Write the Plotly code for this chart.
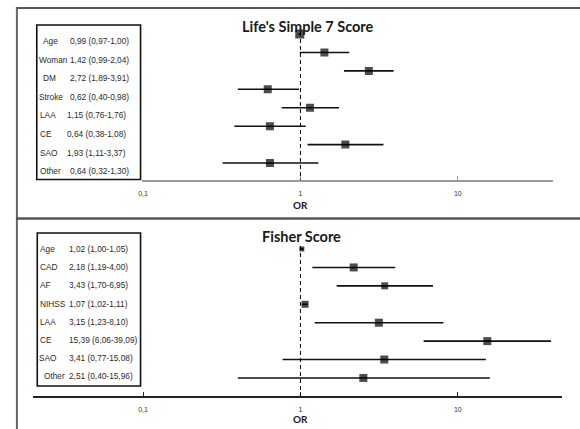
import plotly.graph_objects as go
import numpy as np

# ---------------- data ----------------
top_title = "Life's Simple 7 Score"
top_labels = ["Age", "Woman", "DM", "Stroke", "LAA", "CE", "SAO", "Other"]
top_or = [0.99, 1.42, 2.72, 0.62, 1.15, 0.64, 1.93, 0.64]
top_lo = [0.97, 0.99, 1.89, 0.40, 0.76, 0.38, 1.11, 0.32]
top_hi = [1.00, 2.04, 3.91, 0.98, 1.76, 1.08, 3.37, 1.30]

bot_title = "Fisher Score"
bot_labels = ["Age", "CAD", "AF", "NIHSS", "LAA", "CE", "SAO", "Other"]
bot_or = [1.02, 2.18, 3.43, 1.07, 3.15, 15.39, 3.41, 2.51]
bot_lo = [1.00, 1.19, 1.70, 1.02, 1.23, 6.06, 0.77, 0.40]
bot_hi = [1.05, 4.00, 6.95, 1.11, 8.10, 39.09, 15.08, 15.96]

tick_vals = [0.1, 1, 10]
tick_text = ["0,1", "1", "10"]
axis_title = "OR"

W, H = 580, 429
def px(x): return x / W
def py(y): return 1 - y / H

def fmt(v):
    return f"{v:.2f}".replace(".", ",")

def ci_text(o, l, h):
    return f"{fmt(o)} ({fmt(l)}-{fmt(h)})"

fig = go.Figure()

# ---------------- forest traces ----------------
def add_forest(ors, los, his, xa, ya, sizes):
    ors = np.array(ors); los = np.array(los); his = np.array(his)
    fig.add_trace(go.Scatter(
        x=ors, y=list(range(len(ors))), mode="markers",
        xaxis=xa, yaxis=ya,
        marker=dict(symbol="square", size=sizes, color="#000000",
                    line=dict(width=0)),
        error_x=dict(type="data", symmetric=False, array=his - ors,
                     arrayminus=ors - los, width=0, thickness=1.6,
                     color="#111111"),
        hoverinfo="skip", showlegend=False))

add_forest(top_or, top_lo, top_hi, "x", "y", [9, 8, 8, 8, 8, 8, 8, 8])
add_forest(bot_or, bot_lo, bot_hi, "x2", "y2", [5, 8, 7, 7, 8, 8, 8, 8])

# ---------------- axes ----------------
x1_0 = 298.5
dec = 158.5
def lg(xp): return (xp - x1_0) / dec

common_x = dict(type="log", showgrid=False, zeroline=False, showline=True,
                linewidth=1.5, ticks="inside", ticklen=4, tickwidth=1,
                tickvals=tick_vals, ticktext=tick_text,
                tickfont=dict(family="Liberation Sans", size=7, color="#333333"),
                ticklabelstandoff=6, fixedrange=True)
fig.update_layout(
    xaxis=dict(domain=[px(139), px(553)], range=[lg(139), lg(553)], anchor="y",
               linecolor="#9a9a9a", tickcolor="#9a9a9a", **common_x),
    yaxis=dict(domain=[py(180), py(25)], range=[7.92, -0.49], anchor="x",
               visible=False),
    xaxis2=dict(domain=[px(29), px(562)], range=[lg(29), lg(562)], anchor="y2",
                linecolor="#222222", tickcolor="#222222", **common_x),
    yaxis2=dict(domain=[py(396), py(240)], range=[7.98, -0.49], anchor="x2",
                visible=False),
)

shapes = []
# dashed reference lines at OR = 1
shapes.append(dict(type="line", xref="x", yref="paper", x0=1, x1=1,
                   y0=py(32), y1=py(180), line=dict(color="#000", width=1, dash="4px,3px")))
shapes.append(dict(type="line", xref="x2", yref="paper", x0=1, x1=1,
                   y0=py(246), y1=py(396), line=dict(color="#000", width=1, dash="4px,3px")))
# outer frame lines
shapes.append(dict(type="line", xref="paper", yref="paper", x0=px(12), x1=1,
                   y0=py(8), y1=py(8), line=dict(color="#555", width=2)))
shapes.append(dict(type="line", xref="paper", yref="paper", x0=px(13), x1=px(13),
                   y0=py(7), y1=0, line=dict(color="#666", width=2)))
shapes.append(dict(type="line", xref="paper", yref="paper", x0=px(12), x1=1,
                   y0=py(218.5), y1=py(218.5), line=dict(color="#555", width=2.5)))
# table boxes
shapes.append(dict(type="rect", xref="paper", yref="paper", x0=px(33), x1=px(137.5),
                   y0=py(25), y1=py(179.5), line=dict(color="#111", width=1.6)))
shapes.append(dict(type="rect", xref="paper", yref="paper", x0=px(33.5), x1=px(137.5),
                   y0=py(233), y1=py(386), line=dict(color="#111", width=1.6)))

ann = []
tfont = dict(family="Liberation Sans", size=8.3, color="#2a2a2a")
top_label_x = [37, 33, 37, 33, 34, 34, 34, 34]
top_val_x = [64, 64, 64, 64, 61.5, 61.5, 61.5, 64]
for i, lab in enumerate(top_labels):
    y = 41 + i * 18.6
    ann.append(dict(x=px(top_label_x[i]), y=py(y), text=lab, xanchor="left"))
    ann.append(dict(x=px(top_val_x[i]), y=py(y),
                    text=ci_text(top_or[i], top_lo[i], top_hi[i]), xanchor="left"))
bot_label_x = [34, 34, 34, 34, 34, 34, 33, 38.5]
for i, lab in enumerate(bot_labels):
    y = 249 + i * 18.2
    ann.append(dict(x=px(bot_label_x[i]), y=py(y), text=lab, xanchor="left"))
    ann.append(dict(x=px(63.5), y=py(y),
                    text=ci_text(bot_or[i], bot_lo[i], bot_hi[i]), xanchor="left"))
for a in ann:
    a.update(xref="paper", yref="paper", yanchor="middle", showarrow=False, font=tfont)

# titles
title_font = dict(family="Lato", size=14.5, color="#1a1a1a", weight="bold")
ann.append(dict(x=px(306), y=py(27), text=top_title, xref="paper", yref="paper",
                xanchor="center", yanchor="middle", showarrow=False, font=title_font))
ann.append(dict(x=px(300), y=py(237), text=bot_title, xref="paper", yref="paper",
                xanchor="center", yanchor="middle", showarrow=False, font=title_font))
# OR axis titles
or_font = dict(family="Lato", size=10, color="#1a1a1a", weight="bold")
ann.append(dict(x=0, y=py(204.5), text=axis_title, xref="x", yref="paper",
                xanchor="center", yanchor="middle", showarrow=False, font=or_font))
ann.append(dict(x=0, y=py(419), text=axis_title, xref="x2", yref="paper",
                xanchor="center", yanchor="middle", showarrow=False, font=or_font))

fig.update_layout(width=W, height=H, margin=dict(l=0, r=0, t=0, b=0),
                  paper_bgcolor="white", plot_bgcolor="white",
                  shapes=shapes, annotations=ann, showlegend=False)

fig.write_html("out.html", config={"displayModeBar": False, "staticPlot": True},
               post_script="document.body.style.margin='0';document.body.style.overflow='hidden';")
